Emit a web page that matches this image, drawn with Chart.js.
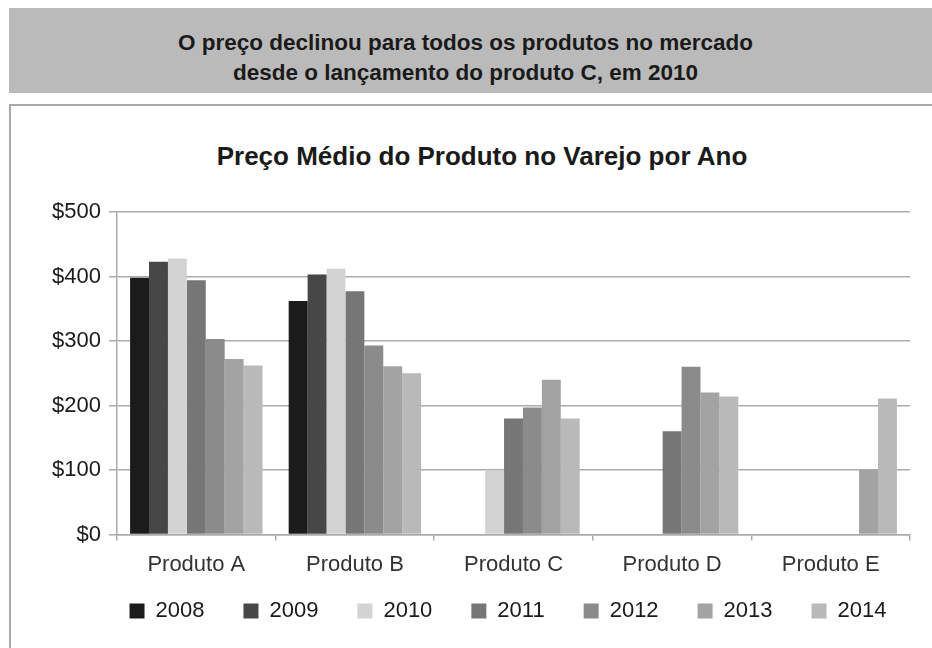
<!DOCTYPE html>
<html lang="pt">
<head>
<meta charset="utf-8">
<title>Preço Médio do Produto no Varejo por Ano</title>
<script src="https://cdn.jsdelivr.net/npm/chart.js@4/dist/chart.umd.min.js"></script>
<style>
  html, body { margin: 0; padding: 0; background: #ffffff; }
  body { width: 932px; height: 648px; overflow: hidden; position: relative;
         font-family: "Liberation Sans", Arial, sans-serif; }
  #banner { position: absolute; left: 9px; top: 8px; width: 923px; height: 85px;
            background: #bababa; box-sizing: border-box; padding: 20px 10px 0 0;
            text-align: center; font-weight: bold; font-size: 22.5px; line-height: 30px;
            color: #1a1a1a; }
  #frame { position: absolute; left: 9px; top: 104px; width: 1000px; height: 600px;
           border-left: 2px solid #a8a8a8; border-top: 2px solid #a8a8a8; }
  #chartTitle { position: absolute; left: 0; width: 964px; top: 141px; text-align: center;
                font-weight: bold; font-size: 26px; line-height: 30px; color: #1a1a1a; }
  #wrap { position: absolute; left: 11px; top: 106px; width: 989px; height: 542px; }
</style>
</head>
<body>
<div id="banner">O preço declinou para todos os produtos no mercado<br>desde o lançamento do produto C, em 2010</div>
<div id="frame"></div>
<div id="chartTitle">Preço Médio do Produto no Varejo por Ano</div>
<div id="wrap"><canvas id="chart" width="989" height="542"></canvas></div>
<script>
// Produtos no eixo X
const products = ['Produto A', 'Produto B', 'Produto C', 'Produto D', 'Produto E'];

// Preço médio por ano (null = produto ainda não lançado)
const years = ['2008', '2009', '2010', '2011', '2012', '2013', '2014'];
const price2008 = [398, 362, null, null, null];
const price2009 = [423, 403, null, null, null];
const price2010 = [428, 412, 100, null, null];
const price2011 = [394, 377, 180, 160, null];
const price2012 = [303, 293, 197, 260, null];
const price2013 = [272, 261, 240, 220, 100];
const price2014 = [262, 250, 180, 214, 211];

// Marcas do eixo de preço
const priceTicks = [0, 100, 200, 300, 400, 500];

const seriesValues = [price2008, price2009, price2010, price2011, price2012, price2013, price2014];
const seriesColors = ['#1b1b1b', '#474747', '#d3d3d3', '#767676', '#8b8b8b', '#a3a3a3', '#b9b9b9'];

const datasets = years.map((y, i) => ({
  label: y,
  data: seriesValues[i],
  backgroundColor: seriesColors[i],
  borderWidth: 0,
  categoryPercentage: 0.835,
  barPercentage: 1.0
}));

const axisColor = '#ababab';
const labelFont = { family: '"Liberation Sans", Arial, sans-serif', size: 22 };

// Aproxima a legenda dos rótulos do eixo X e a centraliza sob as barras
const legendPlacement = {
  id: 'legendPlacement',
  afterLayout(chart) {
    const lg = chart.legend;
    if (!lg) return;
    const up = 16, shift = 27;
    lg.top -= up; lg.bottom -= up;
    lg.left += shift; lg.right += shift;
  }
};

new Chart(document.getElementById('chart'), {
  type: 'bar',
  data: { labels: products, datasets },
  plugins: [legendPlacement],
  options: {
    responsive: false,
    animation: false,
    events: [],
    layout: { padding: { top: 106, left: 41, right: 90, bottom: 0 } },
    plugins: {
      title: { display: false },
      tooltip: { enabled: false },
      legend: {
        position: 'bottom',
        align: 'center',
        labels: {
          boxWidth: 15,
          boxHeight: 15,
          padding: 39,
          color: '#1a1a1a',
          font: labelFont
        }
      }
    },
    scales: {
      x: {
        grid: {
          offset: true,
          drawOnChartArea: false,
          drawTicks: true,
          tickLength: 6,
          color: axisColor,
          lineWidth: 1.5
        },
        border: { display: true, color: axisColor, width: 1.5 },
        ticks: { color: '#333333', font: { ...labelFont, lineHeight: 1.1 }, padding: 12 },
        afterFit: (scale) => { scale.height = 42.5; }
      },
      y: {
        min: 0,
        max: 500,
        afterBuildTicks: (scale) => { scale.ticks = priceTicks.map(v => ({ value: v })); },
        afterFit: (scale) => { scale.width = 65; },
        grid: {
          color: axisColor,
          lineWidth: 1.5,
          drawTicks: true,
          tickLength: 8
        },
        border: { display: true, color: axisColor, width: 1.5 },
        ticks: {
          color: '#1a1a1a',
          font: labelFont,
          padding: 8,
          callback: (v) => '$' + v
        }
      }
    }
  }
});
</script>
</body>
</html>
